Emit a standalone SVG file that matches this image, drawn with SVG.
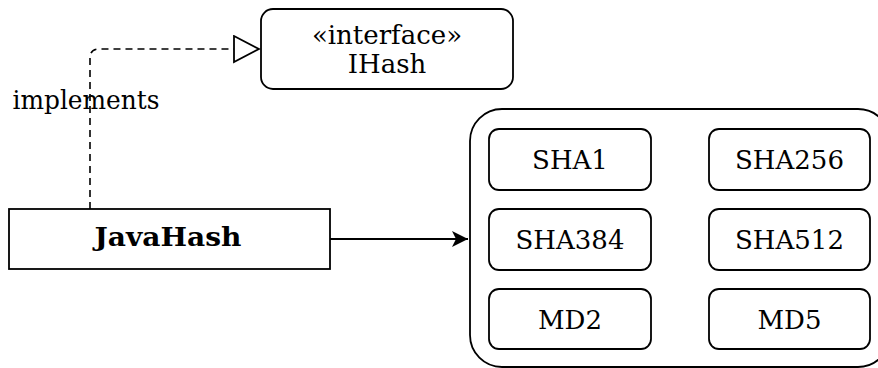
<svg xmlns="http://www.w3.org/2000/svg" width="878" height="368" viewBox="0 0 878 368">
<style>
.box{fill:#fff;stroke:#000;stroke-width:1.8}
text{font-family:'DejaVu Serif',serif;font-size:26px;fill:#000;text-anchor:middle}
.b{font-weight:bold}
.dash{fill:none;stroke:#000;stroke-width:1.6;stroke-dasharray:7 5}
.line{fill:none;stroke:#000;stroke-width:1.8}
</style>
<defs>
<marker id="open" markerWidth="28" markerHeight="30" refX="26" refY="14" orient="auto" markerUnits="userSpaceOnUse">
<path d="M1,1 L26,14 L1,27 Z" fill="#fff" stroke="#000" stroke-width="1.8"/>
</marker>
<marker id="solid" markerWidth="20" markerHeight="20" refX="16" refY="8" orient="auto" markerUnits="userSpaceOnUse">
<path d="M0,0 L16,8 L0,16 L4,8 Z" fill="#000"/>
</marker>
</defs>
<g id="connectors">
<path class="dash" d="M90,209 L90,58 Q90,49 99,49 L259,49" marker-end="url(#open)"/>
<text x="86" y="109" textLength="147" lengthAdjust="spacingAndGlyphs">implements</text>
<path class="line" d="M330,239 L468,239" marker-end="url(#solid)"/>
</g>
<g id="IHash">
<rect class="box" x="261" y="9" width="252" height="80" rx="12"/>
<text x="387" y="44" font-size="25">«interface»</text>
<text x="387" y="73" font-size="25">IHash</text>
</g>
<g id="JavaHash">
<rect class="box" x="9" y="209" width="321" height="60"/>
<text class="b" x="168" y="246" textLength="147" lengthAdjust="spacingAndGlyphs">JavaHash</text>
</g>
<g id="algorithms">
<rect class="box" x="470" y="109" width="420" height="258" rx="32"/>
<g id="SHA1"><rect class="box" x="489" y="129" width="162" height="61" rx="10"/><text x="570" y="169">SHA1</text></g>
<g id="SHA256"><rect class="box" x="709" y="129" width="161" height="61" rx="10"/><text x="789.5" y="169">SHA256</text></g>
<g id="SHA384"><rect class="box" x="489" y="209" width="162" height="61" rx="10"/><text x="570" y="249">SHA384</text></g>
<g id="SHA512"><rect class="box" x="709" y="209" width="161" height="61" rx="10"/><text x="789.5" y="249">SHA512</text></g>
<g id="MD2"><rect class="box" x="489" y="289" width="162" height="60" rx="10"/><text x="570" y="329">MD2</text></g>
<g id="MD5"><rect class="box" x="709" y="289" width="161" height="60" rx="10"/><text x="789.5" y="329">MD5</text></g>
</g>
</svg>
